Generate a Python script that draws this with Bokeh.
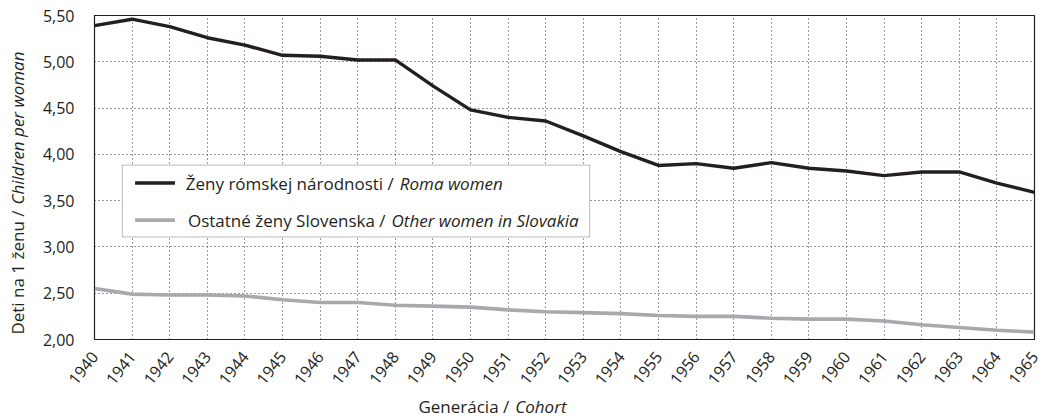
import math
from bokeh.plotting import figure
from bokeh.layouts import row, column
from bokeh.models import (Range1d, FixedTicker, CustomJSTickFormatter, Label,
                          BoxAnnotation)
from bokeh.embed import file_html
from bokeh.resources import INLINE

# ---- data ----
cohorts = [1940, 1941, 1942, 1943, 1944, 1945, 1946, 1947, 1948, 1949, 1950, 1951, 1952,
           1953, 1954, 1955, 1956, 1957, 1958, 1959, 1960, 1961, 1962, 1963, 1964, 1965]
roma_women = [5.39, 5.46, 5.38, 5.26, 5.18, 5.07, 5.06, 5.02, 5.02, 4.74, 4.48, 4.40, 4.36,
              4.20, 4.03, 3.88, 3.90, 3.85, 3.91, 3.85, 3.82, 3.77, 3.81, 3.81, 3.69, 3.59]
other_women = [2.55, 2.49, 2.48, 2.48, 2.47, 2.43, 2.40, 2.40, 2.37, 2.36, 2.35, 2.32, 2.30,
               2.29, 2.28, 2.26, 2.25, 2.25, 2.23, 2.22, 2.22, 2.20, 2.16, 2.13, 2.10, 2.08]
y_ticks = [2.0, 2.5, 3.0, 3.5, 4.0, 4.5, 5.0, 5.5]

roma_label = ["Ženy rómskej národnosti /", "Roma women"]
other_label = ["Ostatné ženy Slovenska /", "Other women in Slovakia"]
x_title = ["Generácia /", "Cohort"]
y_title = ["Deti na 1 ženu /", "Children per woman"]

FONT = "Open Sans"
TXT = "#231f20"
ROMA_COLOR = "#231f20"
OTHER_COLOR = "#a7a9ac"

TOTAL_W, TOTAL_H = 1043, 418
YT_W = 34          # strip for the y-axis title
XT_H = 24          # strip for the x-axis title
MAIN_W = TOTAL_W - YT_W
MAIN_H = TOTAL_H - XT_H
BL, BR = 60, 9     # frame borders inside the main figure

x_rng = Range1d(cohorts[0], cohorts[-1])
y_rng = Range1d(y_ticks[0], y_ticks[-1])

p = figure(width=MAIN_W, height=MAIN_H, output_backend="svg", toolbar_location=None,
           x_range=x_rng, y_range=y_rng,
           min_border_left=BL, min_border_right=BR, min_border_top=15,
           min_border_bottom=MAIN_H - 339)
p.background_fill_color = "white"
p.border_fill_color = "white"
p.outline_line_color = "#231f20"
p.outline_line_width = 1.2

# axes
p.xaxis.ticker = FixedTicker(ticks=cohorts)
p.yaxis.ticker = FixedTicker(ticks=y_ticks)
p.xaxis.formatter = CustomJSTickFormatter(code="return tick.toFixed(0);")
p.yaxis.formatter = CustomJSTickFormatter(code="return tick.toFixed(2).replace('.', ',');")
for ax in (p.xaxis, p.yaxis):
    ax.axis_line_color = "#231f20"
    ax.major_tick_line_color = None
    ax.minor_tick_line_color = None
    ax.major_label_text_font = FONT
    ax.major_label_text_font_size = "16px"
    ax.major_label_text_color = TXT
p.yaxis.major_label_standoff = 14
p.xaxis.major_label_standoff = 8
p.xaxis.major_label_orientation = 0.9

# grid
p.xgrid.ticker = FixedTicker(ticks=cohorts)
p.ygrid.ticker = FixedTicker(ticks=y_ticks)
for g in (p.xgrid, p.ygrid):
    g.grid_line_color = "#231f20"
    g.grid_line_width = 1
    g.grid_line_dash = "1 3"
    g.grid_line_alpha = 0.9

# series
p.line(cohorts, other_women, line_color=OTHER_COLOR, line_width=3.6, line_join="round")
p.line(cohorts, roma_women, line_color=ROMA_COLOR, line_width=3.4, line_join="round")

# legend (manual, to allow mixed regular/italic text)
box = BoxAnnotation(left=1940.74, right=1953.17, top=3.884, bottom=3.108,
                    fill_color="white", fill_alpha=1.0, line_color="#231f20",
                    line_width=1, level="underlay")
p.add_layout(box)
p.line([1941.08, 1942.14], [3.69, 3.69], line_color=ROMA_COLOR, line_width=3.4)
p.line([1941.08, 1942.14], [3.29, 3.29], line_color=OTHER_COLOR, line_width=3.6)


def two_part(fig, x, y, parts, angle=0.0, dx=(-3, 3), dy=(0, 0), size="15px"):
    a = Label(x=x, y=y, x_offset=dx[0], y_offset=dy[0], text=parts[0], angle=angle,
              text_align="right", text_baseline="middle", text_font=FONT,
              text_font_size=size, text_color=TXT)
    b = Label(x=x, y=y, x_offset=dx[1], y_offset=dy[1], text=parts[1], angle=angle,
              text_align="left", text_baseline="middle", text_font=FONT,
              text_font_size=size, text_color=TXT, text_font_style="italic")
    fig.add_layout(a)
    fig.add_layout(b)


two_part(p, 1948.04, 3.69, roma_label, size="17px")
two_part(p, 1947.82, 3.29, other_label, size="17px")


def strip(width, height, xr, yr, **borders):
    f = figure(width=width, height=height, output_backend="svg", toolbar_location=None,
               x_range=xr, y_range=yr, x_axis_type=None, y_axis_type=None,
               min_border=0, **borders)
    f.outline_line_color = None
    f.background_fill_color = "white"
    f.border_fill_color = "white"
    f.grid.visible = False
    return f


# x-axis title strip (shares the x range so the title is placed in cohort units)
xt = strip(MAIN_W, XT_H, x_rng, Range1d(0, XT_H), min_border_left=BL, min_border_right=BR)
two_part(xt, 1951.11, XT_H / 2, x_title, dx=(-3, 3), dy=(0, 0), size="17px")

# y-axis title strip (pixel coordinates, measured up from the bottom of the page area)
yt = strip(YT_W, TOTAL_H, Range1d(0, YT_W), Range1d(0, TOTAL_H))
two_part(yt, 17, TOTAL_H - 207, y_title, angle=math.pi / 2, dx=(0, 0), dy=(-3, 3),
         size="17px")

layout = row(yt, column(p, xt, spacing=0), spacing=0)

open("out.html", "w").write(file_html(layout, INLINE))
